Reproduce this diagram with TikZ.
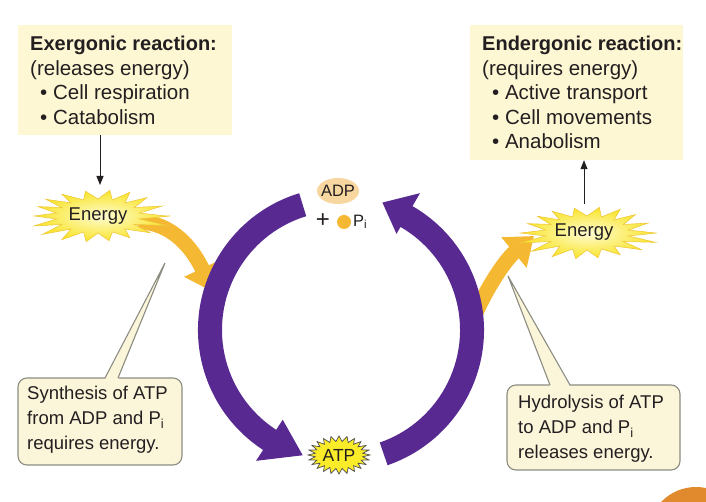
\documentclass[tikz,border=0pt]{standalone}
\usepackage{fontspec}
\setmainfont{Liberation Sans}
\usetikzlibrary{arrows.meta}
\definecolor{boxyellow}{RGB}{253,247,212}
\definecolor{callfill}{RGB}{251,245,218}
\definecolor{callline}{RGB}{140,140,130}
\definecolor{atppurple}{RGB}{88,42,145}
\definecolor{energyorange}{RGB}{244,184,50}
\definecolor{burstyellow}{RGB}{248,228,40}
\definecolor{burstcenter}{RGB}{255,252,210}
\definecolor{burstedge}{RGB}{240,200,60}
\definecolor{atpyellow}{RGB}{250,236,40}
\definecolor{adpfill}{RGB}{247,214,160}
\definecolor{txt}{RGB}{35,31,32}
\definecolor{cornerorange}{RGB}{225,138,45}
\begin{document}
\begin{tikzpicture}[x=1pt,y=1pt,
  topbox/.style={fill=boxyellow, draw=none, inner sep=0},
  callbox/.style={fill=callfill, draw=callline, line width=1.1pt, rounded corners=9pt, inner sep=0},
  calltext/.style={anchor=west, align=left, inner sep=0, text=txt, font=\fontsize{18.5pt}{25pt}\selectfont},
  boxtext/.style={anchor=west, align=left, inner sep=0, text=txt, font=\fontsize{20.5pt}{24.5pt}\selectfont},
  blackarrow/.style={draw=txt, line width=1pt, -{Triangle[length=9pt,width=7pt]}},
  energyarrow/.style={draw=energyorange, line width=15pt, -{Triangle[length=26pt,width=38pt]}},
  burststyle/.style={inner color=burstcenter, outer color=burstyellow, draw=burstedge, line width=0.6pt},
  labeltext/.style={inner sep=0, text=txt, font=\fontsize{18.5pt}{20pt}\selectfont}]
\useasboundingbox (0,0) rectangle (706,502);

% corner circle
\begin{scope}
\clip (0,0) rectangle (706,502);
\fill[cornerorange] (696,-33) circle (48);
\end{scope}

% top boxes
\node[topbox, minimum width=214pt, minimum height=110pt] (lbox) at (125,422) {};
\node[boxtext] (ltext) at (30,421.5) {{\bfseries\fontsize{20pt}{24.5pt}\selectfont Exergonic reaction:}\\(releases energy)\\\hspace*{10pt}\textbullet\ Cell respiration\\\hspace*{10pt}\textbullet\ Catabolism};
\node[topbox, minimum width=213pt, minimum height=135pt] (rbox) at (576.5,409.5) {};
\node[boxtext] (rtext) at (482,409.5) {{\bfseries\fontsize{20pt}{24.5pt}\selectfont Endergonic reaction:}\\(requires energy)\\\hspace*{10pt}\textbullet\ Active transport\\\hspace*{10pt}\textbullet\ Cell movements\\\hspace*{10pt}\textbullet\ Anabolism};

% orange energy arrows
\coordinate (lOstart) at (138,280);
\coordinate (lOend) at (213,210);
\draw[energyarrow] (lOstart) .. controls (172,280) and (193,253) .. (lOend);
\coordinate (rOstart) at (472,180);
\coordinate (rOend) at (534,266);
\draw[energyarrow] (rOstart) .. controls (485,212) and (505,242) .. (rOend);

% energy bursts
\begin{scope}[shift={(98,286)}]
\shadedraw[burststyle] (0:68 and 27) \foreach \a in {0,20,...,340} { -- ({\a+10}:42 and 17) -- ({\a+20}:{68-5*sin(3*\a)} and {27+2*cos(2*\a)}) } -- cycle;
\end{scope}
\node[labeltext] (lEnergy) at (98,286) {Energy};
\begin{scope}[shift={(587,269)}]
\shadedraw[burststyle] (0:68 and 27) \foreach \a in {0,20,...,340} { -- ({\a+10}:42 and 17) -- ({\a+20}:{68-5*sin(3*\a+40)} and {27+2*cos(2*\a)}) } -- cycle;
\end{scope}
\node[labeltext] (rEnergy) at (584,270) {Energy};

% black arrows
\coordinate (lE) at (100,317);
\draw[blackarrow] (lbox.south -| lE) -- (lE);
\coordinate (rE) at (584,298);
\draw[blackarrow] (rE) -- (rbox.south -| rE);

% purple cycle arrows
\begin{scope}[shift={(341,172)}]
\fill[atppurple] (107:143) arc[start angle=107,end angle=237,radius=143] -- (237:156) -- (253:131) -- (237:107) -- (237:119) arc[start angle=237,end angle=107,radius=119] -- cycle;
\fill[atppurple] (-71:119) arc[start angle=-71,end angle=60,radius=119] -- (60:111) -- (72:134) -- (60:158) -- (60:143) arc[start angle=60,end angle=-71,radius=143] -- cycle;
\end{scope}

% ATP burst
\begin{scope}[shift={(339,47)}]
\filldraw[fill=atpyellow, draw=txt!80, line width=0.7pt] (0:31 and 19) \foreach \a in {0,15,...,345} { -- ({\a+7.5}:24 and 13.5) -- ({\a+15}:31 and 19) } -- cycle;
\end{scope}
\node[inner sep=0, text=txt, font=\fontsize{17.5pt}{18pt}\selectfont] (atp) at (339,47) {ATP};

% ADP + Pi
\fill[adpfill] (338,311) ellipse [x radius=21, y radius=13];
\node[inner sep=0, text=txt, font=\fontsize{16.5pt}{18pt}\selectfont] (adp) at (338,311) {ADP};
\node[inner sep=0, text=txt, font=\fontsize{24pt}{24pt}\selectfont] (plus) at (323,281) {+};
\fill[energyorange] (344,280) circle (7);
\node[anchor=west, inner sep=0, text=txt, font=\fontsize{16.5pt}{18pt}\selectfont] (pi) at (353,280) {P\textsubscript{i}};

% callouts
\node[callbox, minimum width=164pt, minimum height=87pt] (lcall) at (100,80.5) {};
\coordinate (lptr) at (165,239);
\fill[callfill] (105,122.5) -- (lptr) -- (118,122.5) -- cycle;
\draw[callline, line width=1.1pt] (105,124) -- (lptr) -- (118,124);
\node[calltext] (lcalltext) at (27,82) {Synthesis of ATP\\from ADP and P\textsubscript{i}\\requires energy.};

\node[callbox, minimum width=173pt, minimum height=85pt] (rcall) at (593.5,74.5) {};
\coordinate (rptr) at (508,226);
\fill[callfill] (550,115.5) -- (rptr) -- (570,115.5) -- cycle;
\draw[callline, line width=1.1pt] (550,117) -- (rptr) -- (570,117);
\node[calltext] (rcalltext) at (518,73) {Hydrolysis of ATP\\to ADP and P\textsubscript{i}\\releases energy.};
\end{tikzpicture}
\end{document}
